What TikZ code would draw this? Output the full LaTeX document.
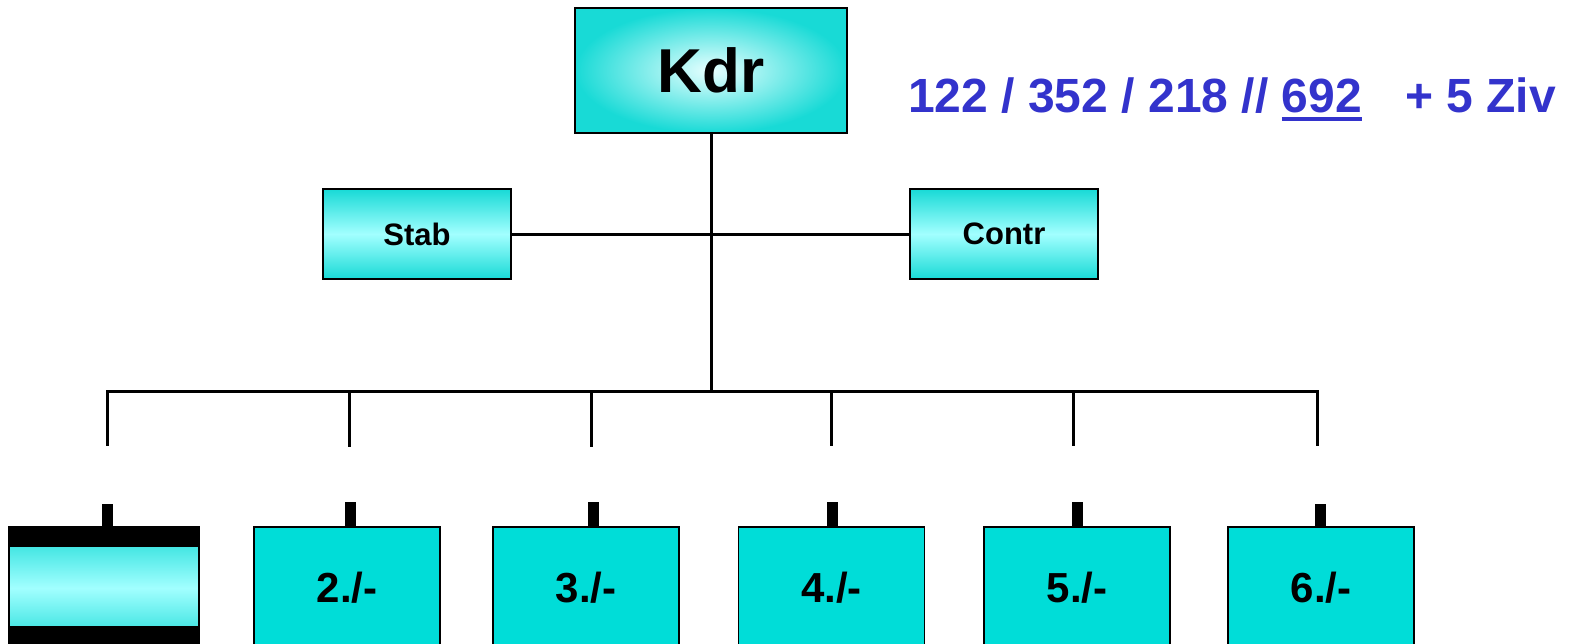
\documentclass[tikz,border=0pt]{standalone}
\usepackage{fontspec}
\setmainfont{Liberation Sans}
\usetikzlibrary{calc}
\definecolor{cyanE}{RGB}{24,218,214}
\definecolor{cyanM}{RGB}{162,255,255}
\definecolor{cyanC}{RGB}{232,255,255}
\definecolor{cyanS}{RGB}{0,221,216}
\definecolor{blueT}{RGB}{51,51,204}
\newcommand{\thickul}[1]{\setbox0\hbox{#1}\rlap{\rule[-9pt]{\wd0}{4.5pt}}\box0}
\tikzset{
  topbox/.style={draw=black, line width=1.8pt, minimum width=272pt, minimum height=125pt,
    inner color=cyanC, outer color=cyanE, font=\fontsize{62}{62}\selectfont\bfseries},
  sidebox/.style={draw=black, line width=1.8pt, minimum width=188pt, minimum height=90pt,
    top color=cyanE, bottom color=cyanE, middle color=cyanM, font=\fontsize{31}{31}\selectfont\bfseries},
  unitbox/.style={draw=black, line width=1.8pt, minimum width=186pt, minimum height=122pt,
    fill=cyanS, font=\fontsize{42}{42}\selectfont\bfseries},
  conn/.style={line width=3pt},
  tab/.style={line width=11pt},
}
\begin{document}
\begin{tikzpicture}[x=1pt,y=-1pt]
\useasboundingbox (0,0) rectangle (1582,643);
\clip (0,0) rectangle (1582,643);
% top
\node[topbox] (kdr) at (711,70.5) {Kdr};
\node[sidebox] (stab) at (417,234) {Stab};
\node[sidebox] (contr) at (1004,234) {Contr};
\node[font=\fontsize{48}{48}\selectfont\bfseries, text=blueT, anchor=base west, inner sep=0pt] (nums) at (908,112)
  {122 / 352 / 218 // \thickul{692}\hspace{0.9em}+ 5 Ziv};
% bus
\coordinate (busc) at (711,391);
\coordinate (busl) at (107,391);
\coordinate (busr) at (1317,391);
\coordinate (t1) at (107,391); \coordinate (e1) at (107,446);
\coordinate (t2) at (349,391); \coordinate (e2) at (349,447);
\coordinate (t3) at (591,391); \coordinate (e3) at (591,447);
\coordinate (t4) at (831,391); \coordinate (e4) at (831,446);
\coordinate (t5) at (1073,391); \coordinate (e5) at (1073,446);
\coordinate (t6) at (1317,391); \coordinate (e6) at (1317,446);
\draw[conn] (kdr.south) -- (busc);
\draw[conn] (stab.east) -- (contr.west);
\draw[conn, line cap=rect] (busl) -- (busr);
\foreach \i in {1,...,6} { \draw[conn] (t\i) -- (e\i); }
% unit boxes
\node[unitbox, draw=none, minimum width=188pt, top color=cyanE, bottom color=cyanE, middle color=cyanM] (b1) at (104,588) {};
\node[unitbox] (b2) at (347,588) {2./-};
\node[unitbox] (b3) at (586,588) {3./-};
\node[unitbox] (b4) at (831.5,588) {4./-};
\node[unitbox] (b5) at (1077,588) {5./-};
\node[unitbox] (b6) at (1321,588) {6./-};
% first box black bands and border
\fill[black] (b1.north west) rectangle ($(b1.north east)+(0,21)$);
\fill[black] ($(b1.north west)+(0,100)$) rectangle ($(b1.north east)+(0,122)$);
\draw[line width=1.8pt] (b1.north west) -- (b1.south west);
\draw[line width=1.8pt] (b1.north east) -- (b1.south east);
% tabs
\draw[tab] (b1.north -| 107,0) -- ++(0,-22);
\draw[tab] (b2.north -| 350,0) -- ++(0,-24);
\draw[tab] (b3.north -| 593,0) -- ++(0,-24);
\draw[tab] (b4.north -| 832,0) -- ++(0,-24);
\draw[tab] (b5.north -| 1077,0) -- ++(0,-24);
\draw[tab] (b6.north -| 1320,0) -- ++(0,-22);
\end{tikzpicture}
\end{document}
